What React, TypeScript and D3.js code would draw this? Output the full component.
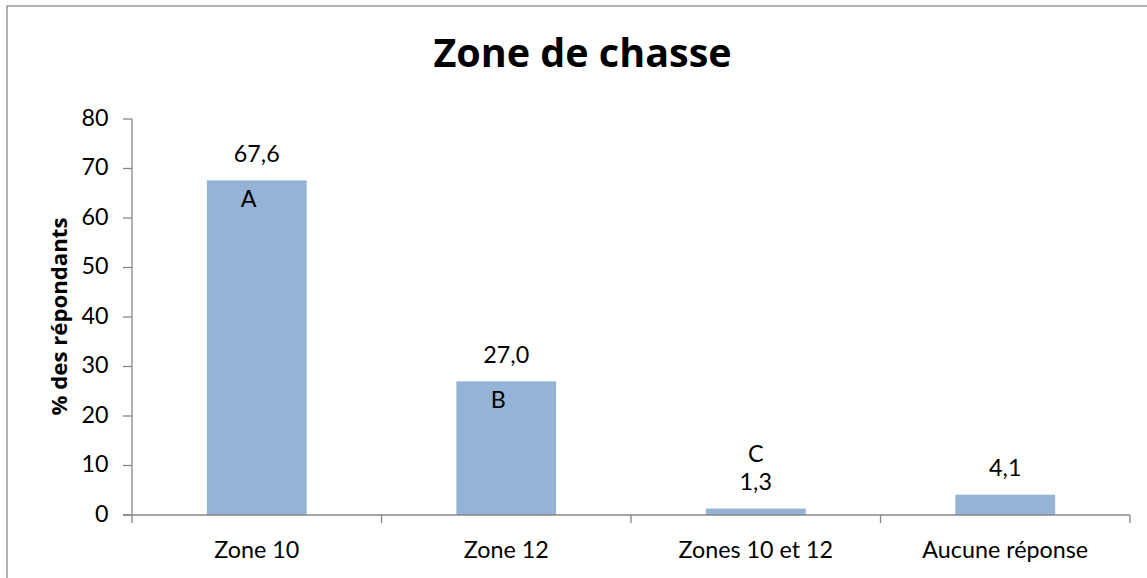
import React from "react";
import * as d3 from "d3";

const categories = ["Zone 10", "Zone 12", "Zones 10 et 12", "Aucune réponse"];
const values = [67.6, 27.0, 1.3, 4.1];
const valueLabels = ["67,6", "27,0", "1,3", "4,1"];
const letters = ["A", "B", "C", ""];
const yTicks = [0, 10, 20, 30, 40, 50, 60, 70, 80];

const W = 1147;
const H = 578;
const left = 132;
const right = 1130;
const top = 119;
const bottom = 515;
const FONT = "Lato, Carlito, Calibri, sans-serif";
const BOLD = "'Open Sans', Lato, sans-serif";
const AXIS = "#868686";
const FS = 23.3;

export default function App() {
  const x = d3
    .scaleBand<string>()
    .domain(categories)
    .range([left, right])
    .paddingInner(0.6)
    .paddingOuter(0.3);
  const xc = d3.scaleBand<string>().domain(categories).range([left, right]).padding(0);
  const y = d3.scaleLinear().domain([0, 80]).range([bottom, top]);

  const bounds = [...categories.map((c) => xc(c) as number), right];

  return (
    <svg
      width={W}
      height={H}
      style={{ position: "absolute", left: 0, top: 0, background: "#fff" }}
      fontFamily={FONT}
    >
      <rect x={7} y={6} width={1200} height={640} fill="#fff" stroke="#898989" strokeWidth={1.3} />
      <text x={582.5} y={67} textAnchor="middle" fontSize={39.5} fontWeight="bold" fontFamily={BOLD} fill="#000">
        Zone de chasse
      </text>
      <text
        transform={`translate(66.5,316.5) rotate(-90)`}
        textAnchor="middle"
        fontSize={22.2}
        fontWeight="bold"
        fontFamily={BOLD}
        fill="#000"
      >
        % des répondants
      </text>
      {/* bars */}
      {categories.map((c, i) => (
        <rect
          key={c}
          x={x(c)}
          y={y(values[i])}
          width={x.bandwidth()}
          height={y(0) - y(values[i])}
          fill="#95B3D7"
        />
      ))}
      {/* y axis */}
      <line x1={left} x2={left} y1={y(80)} y2={y(0)} stroke={AXIS} strokeWidth={1.3} />
      {yTicks.map((t) => (
        <g key={t}>
          <line x1={left - 9} x2={left} y1={y(t)} y2={y(t)} stroke={AXIS} strokeWidth={1.3} />
          <text x={108.5} y={y(t) + 6.7} textAnchor="end" fontSize={FS} fill="#000">
            {t}
          </text>
        </g>
      ))}
      {/* x axis */}
      <line x1={left - 9} x2={right} y1={y(0)} y2={y(0)} stroke={AXIS} strokeWidth={1.3} />
      {bounds.map((b, i) => (
        <line key={i} x1={b} x2={b} y1={y(0)} y2={y(0) + 8} stroke={AXIS} strokeWidth={1.3} />
      ))}
      {categories.map((c) => (
        <text
          key={c}
          x={(x(c) as number) + x.bandwidth() / 2}
          y={557.7}
          textAnchor="middle"
          fontSize={FS}
          fill="#000"
        >
          {c}
        </text>
      ))}
      {/* value labels */}
      {categories.map((c, i) => (
        <text
          key={c}
          x={(x(c) as number) + x.bandwidth() / 2}
          y={y(values[i]) - 18.3}
          textAnchor="middle"
          fontSize={FS}
          fill="#000"
        >
          {valueLabels[i]}
        </text>
      ))}
      {/* letters */}
      {categories.map((c, i) => {
        if (!letters[i]) return null;
        const cx = (x(c) as number) + x.bandwidth() / 2;
        const inside = values[i] > 10;
        return (
          <text
            key={c}
            x={inside ? cx - 8 : cx}
            y={inside ? y(values[i]) + 27 : y(values[i]) - 46.5}
            textAnchor="middle"
            fontSize={FS}
            fill="#000"
          >
            {letters[i]}
          </text>
        );
      })}
    </svg>
  );
}
